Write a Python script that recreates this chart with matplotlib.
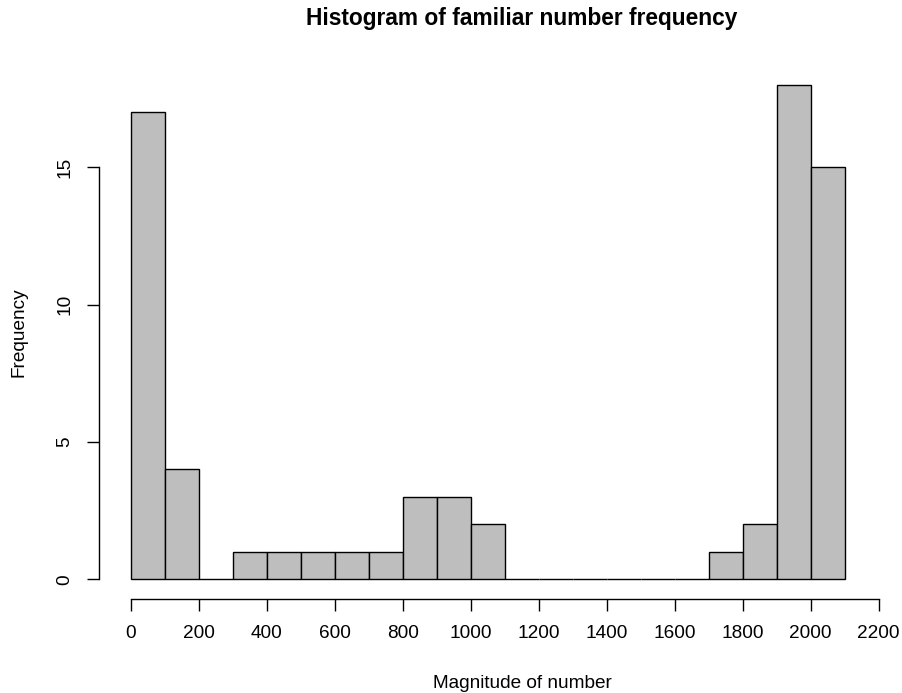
import matplotlib
matplotlib.use("Agg")
import matplotlib.pyplot as plt
import numpy as np

plt.rcParams['font.family'] = ['Liberation Sans', 'DejaVu Sans']

bin_edges = [0, 100, 200, 300, 400, 500, 600, 700, 800, 900, 1000, 1100,
             1200, 1300, 1400, 1500, 1600, 1700, 1800, 1900, 2000, 2100]
counts = [17, 4, 0, 1, 1, 1, 1, 1, 3, 3, 2, 0, 0, 0, 0, 0, 0, 1, 2, 18, 15]
x_ticks = [0, 200, 400, 600, 800, 1000, 1200, 1400, 1600, 1800, 2000, 2200]
y_ticks = [0, 5, 10, 15]
title = "Histogram of familiar number frequency"
xlabel = "Magnitude of number"
ylabel = "Frequency"

fig = plt.figure(figsize=(9.02, 6.93), dpi=100)
ax = fig.add_axes([99/902, (693-599.3)/693, (888.9-99)/902, (599.3-65.1)/693])

lefts = np.array(bin_edges[:-1])
widths = np.diff(bin_edges)
ax.bar(lefts, counts, width=widths, align='edge', color='#BEBEBE',
       edgecolor='black', linewidth=1.0)

ax.set_xlim(-93, 2230)
ax.set_ylim(-0.728, 18.72)

for s in ['top', 'right']:
    ax.spines[s].set_visible(False)
ax.spines['left'].set_bounds(0, 15)
ax.spines['bottom'].set_bounds(0, 2200)
ax.spines['left'].set_linewidth(1.0)
ax.spines['bottom'].set_linewidth(1.0)

ax.set_xticks(x_ticks)
ax.set_xticklabels([str(v) for v in x_ticks])
ax.set_yticks(y_ticks)
ax.set_yticklabels([str(v) for v in y_ticks], rotation=90, va='center')
ax.tick_params(axis='both', direction='out', length=8.3, width=1.0,
               labelsize=13.7, colors='black')
ax.tick_params(axis='x', pad=10)
ax.tick_params(axis='y', pad=10)

fig.text(522/902, 1 - 25/693, title, ha='center', va='baseline',
         fontsize=16.4, fontweight='bold')
fig.text(522/902, 1 - 688/693, xlabel, ha='center', va='baseline', fontsize=13.7)
fig.text(19/902, 1 - 332/693, ylabel, ha='center', va='center', fontsize=13.7,
         rotation=90)

fig.savefig("out.png", dpi=100)
